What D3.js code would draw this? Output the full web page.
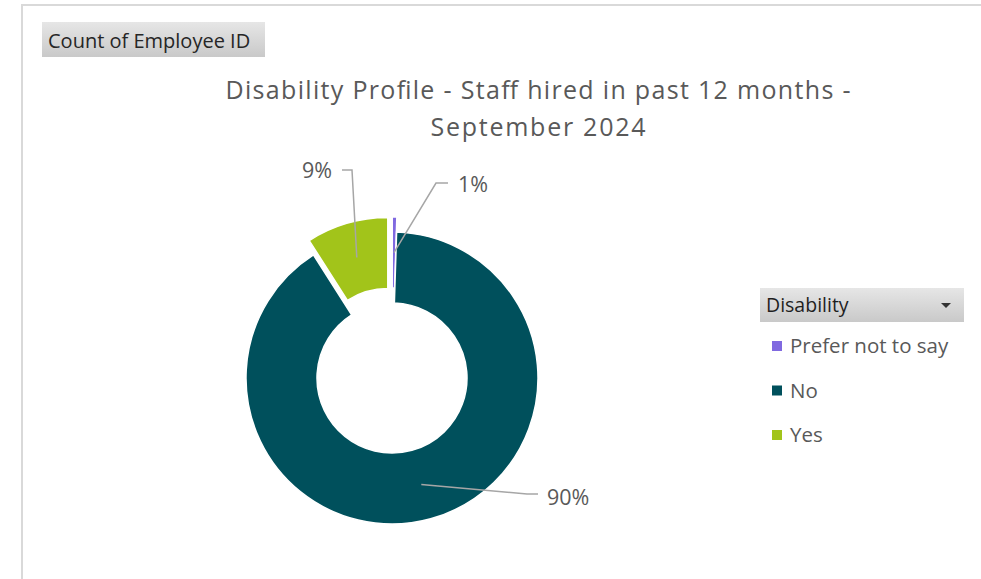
<!DOCTYPE html>
<html>
<head>
<meta charset="utf-8">
<script src="https://cdn.jsdelivr.net/npm/d3@7"></script>
<style>
  html, body { margin: 0; padding: 0; background: #fff; }
  svg { display: block; }
  text { font-family: "Open Sans", "Noto Sans", sans-serif; }
</style>
</head>
<body>
<svg id="chart" width="981" height="579"></svg>
<script>
// Disability profile of staff hired in the past 12 months
const categories = ["Prefer not to say", "No", "Yes"];
const counts = [1, 180, 18];
const colors = ["#8069e0", "#00505c", "#a2c41a"];
const exploded = [true, false, true];
const titleLines = ["Disability Profile - Staff hired in past 12 months -", "September 2024"];
const fieldButton = "Count of Employee ID";
const legendTitle = "Disability";

const svg = d3.select("#chart");
const W = 981, H = 579;

// chart frame
svg.append("path")
  .attr("d", `M22,${H} V5 H${W}`)
  .attr("fill", "none")
  .attr("stroke", "#d9d9d9")
  .attr("stroke-width", 2);

// gradient used by the pivot field buttons
const defs = svg.append("defs");
const grad = defs.append("linearGradient")
  .attr("id", "btn").attr("x1", 0).attr("y1", 0).attr("x2", 0).attr("y2", 1);
grad.append("stop").attr("offset", "0%").attr("stop-color", "#e6e6e6");
grad.append("stop").attr("offset", "100%").attr("stop-color", "#c9c9c9");

// value field button
svg.append("rect")
  .attr("x", 42).attr("y", 22).attr("width", 223).attr("height", 35)
  .attr("fill", "url(#btn)");
svg.append("text")
  .attr("x", 48).attr("y", 48)
  .attr("font-size", 20).attr("fill", "#262626")
  .text(fieldButton);

// title (two centred lines, spread to the title box width)
const titleWidths = [625, 215];
svg.append("text")
  .attr("text-anchor", "middle")
  .attr("font-size", 25).attr("fill", "#595959")
  .selectAll("tspan").data(titleLines).join("tspan")
  .attr("x", 538)
  .attr("y", (d, i) => 99 + i * 37)
  .attr("textLength", (d, i) => titleWidths[i])
  .attr("lengthAdjust", "spacing")
  .text(d => d);

// donut
const cx = 392, cy = 378;
const outerR = 146, innerR = 75, explode = 15;

const pie = d3.pie().sort(null).value(d => d)(counts);
const arc = d3.arc().innerRadius(innerR).outerRadius(outerR);
const pct = d3.format(".0%");
const total = d3.sum(counts);

const offset = (d, i) => {
  if (!exploded[i]) return [0, 0];
  const a = (d.startAngle + d.endAngle) / 2;
  return [Math.sin(a) * explode, -Math.cos(a) * explode];
};

const g = svg.append("g").attr("transform", `translate(${cx},${cy})`);

g.selectAll("path.slice").data(pie).join("path")
  .attr("class", "slice")
  .attr("transform", (d, i) => { const o = offset(d, i); return `translate(${o[0]},${o[1]})`; })
  .attr("d", arc)
  .attr("fill", (d, i) => colors[i])
  .attr("stroke", "#fff")
  .attr("stroke-width", 1.5);

// data labels with leader lines
const labelLayout = [
  { elbow: [44, -195], end: [56, -195], tx: 66, ty: -186, anchor: "start" },
  { elbow: [135, 116], end: [146, 116], tx: 155, ty: 127, anchor: "start" },
  { elbow: [-40, -208], end: [-50, -208], tx: -60, ty: -200, anchor: "end" }
];

pie.forEach((d, i) => {
  const o = offset(d, i);
  const c = arc.centroid(d);
  const start = [c[0] + o[0], c[1] + o[1]];
  const L = labelLayout[i];
  g.append("path")
    .attr("d", d3.line()([start, L.elbow, L.end]))
    .attr("fill", "none")
    .attr("stroke", "#a6a6a6")
    .attr("stroke-width", 1.5);
  g.append("text")
    .attr("x", L.tx).attr("y", L.ty)
    .attr("text-anchor", L.anchor)
    .attr("font-size", 21.5).attr("fill", "#595959")
    .text(pct(d.data / total));
});

// legend
const lg = svg.append("g").attr("transform", "translate(760,288)");
lg.append("rect")
  .attr("width", 204).attr("height", 34)
  .attr("fill", "url(#btn)");
lg.append("text")
  .attr("x", 6).attr("y", 24)
  .attr("font-size", 19.5).attr("fill", "#1f1f1f")
  .text(legendTitle);
lg.append("path")
  .attr("d", "M181,15 h10 l-5,5 z")
  .attr("fill", "#333");

const items = lg.selectAll("g.item").data(categories).join("g")
  .attr("class", "item")
  .attr("transform", (d, i) => `translate(0,${58 + i * 44.5})`);
items.append("rect")
  .attr("x", 12).attr("y", -5).attr("width", 10).attr("height", 10)
  .attr("fill", (d, i) => colors[i]);
items.append("text")
  .attr("x", 30).attr("y", 7)
  .attr("font-size", 20.5).attr("fill", "#595959")
  .text(d => d);
</script>
</body>
</html>
